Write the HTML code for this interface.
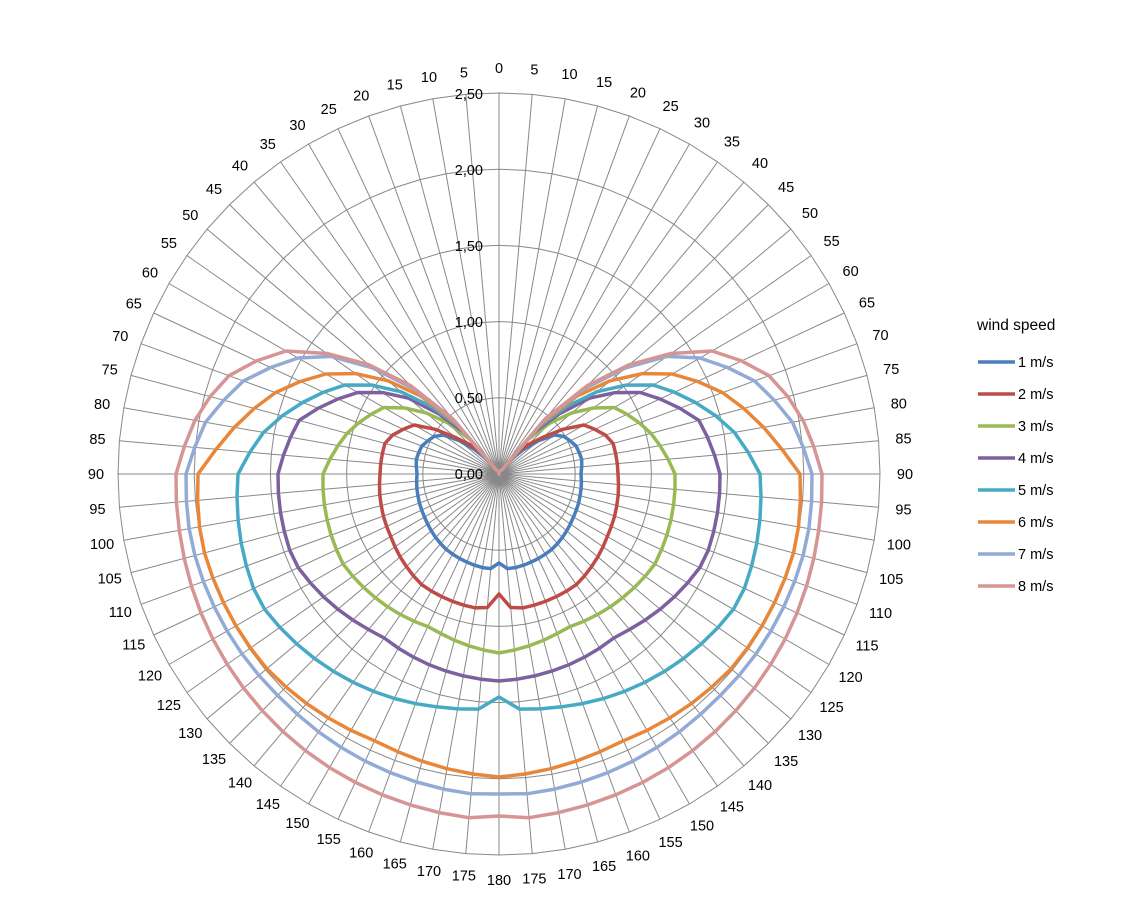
<!DOCTYPE html>
<html><head><meta charset="utf-8"><style>
html,body{margin:0;padding:0;background:#fff;}
svg{display:block;font-family:"Liberation Sans",Arial,sans-serif;}
</style></head><body>
<svg id="s" width="1130" height="906" viewBox="0 0 1130 906">
<g id="grid" stroke="#888" stroke-width="1" fill="none"></g>
<g id="series" fill="none" stroke-width="3.5" stroke-linejoin="round"></g>
<g id="vals" font-size="14.5" fill="#000" text-anchor="end">
<text x="483" y="479">0,00</text>
<text x="483" y="403">0,50</text>
<text x="483" y="327">1,00</text>
<text x="483" y="251">1,50</text>
<text x="483" y="175">2,00</text>
<text x="483" y="99">2,50</text>
</g>
<g id="angR" font-size="14.5" fill="#000" text-anchor="middle">
<text>0</text><text>5</text><text>10</text><text>15</text><text>20</text><text>25</text><text>30</text><text>35</text><text>40</text><text>45</text><text>50</text><text>55</text><text>60</text><text>65</text><text>70</text><text>75</text><text>80</text><text>85</text><text>90</text><text>95</text><text>100</text><text>105</text><text>110</text><text>115</text><text>120</text><text>125</text><text>130</text><text>135</text><text>140</text><text>145</text><text>150</text><text>155</text><text>160</text><text>165</text><text>170</text><text>175</text><text>180</text>
</g>
<g id="angL" font-size="14.5" fill="#000" text-anchor="middle">
<text>5</text><text>10</text><text>15</text><text>20</text><text>25</text><text>30</text><text>35</text><text>40</text><text>45</text><text>50</text><text>55</text><text>60</text><text>65</text><text>70</text><text>75</text><text>80</text><text>85</text><text>90</text><text>95</text><text>100</text><text>105</text><text>110</text><text>115</text><text>120</text><text>125</text><text>130</text><text>135</text><text>140</text><text>145</text><text>150</text><text>155</text><text>160</text><text>165</text><text>170</text><text>175</text>
</g>
<g id="legend" font-size="14.5" fill="#000">
<text x="977" y="330" font-size="15.5">wind speed</text>
<line x1="978" y1="362" x2="1015" y2="362" stroke="#4A7EBB" stroke-width="3.5"/><text x="1018" y="367">1 m/s</text>
<line x1="978" y1="394" x2="1015" y2="394" stroke="#BE4B48" stroke-width="3.5"/><text x="1018" y="399">2 m/s</text>
<line x1="978" y1="426" x2="1015" y2="426" stroke="#98B954" stroke-width="3.5"/><text x="1018" y="431">3 m/s</text>
<line x1="978" y1="458" x2="1015" y2="458" stroke="#7D60A0" stroke-width="3.5"/><text x="1018" y="463">4 m/s</text>
<line x1="978" y1="490" x2="1015" y2="490" stroke="#46AAC5" stroke-width="3.5"/><text x="1018" y="495">5 m/s</text>
<line x1="978" y1="522" x2="1015" y2="522" stroke="#E8873A" stroke-width="3.5"/><text x="1018" y="527">6 m/s</text>
<line x1="978" y1="554" x2="1015" y2="554" stroke="#92AAD6" stroke-width="3.5"/><text x="1018" y="559">7 m/s</text>
<line x1="978" y1="586" x2="1015" y2="586" stroke="#D69594" stroke-width="3.5"/><text x="1018" y="591">8 m/s</text>
</g>
</svg>
<script>
var cx=499,cy=474,R=381,NS="http://www.w3.org/2000/svg";
function P(a,r){var t=a*Math.PI/180;return [cx+r*Math.sin(t),cy-r*Math.cos(t)];}
var g=document.getElementById('grid');
for(var k=1;k<=5;k++){var pts=[];for(var a=0;a<360;a+=5){var p=P(a,R*k/5);pts.push(p[0].toFixed(1)+','+p[1].toFixed(1));}
var pg=document.createElementNS(NS,'polygon');pg.setAttribute('points',pts.join(' '));g.appendChild(pg);}
for(var a=0;a<360;a+=5){var p=P(a,R);var l=document.createElementNS(NS,'line');l.setAttribute('x1',cx);l.setAttribute('y1',cy);l.setAttribute('x2',p[0].toFixed(1));l.setAttribute('y2',p[1].toFixed(1));g.appendChild(l);}
var tr=document.getElementById('angR').children;
for(var i=0;i<tr.length;i++){var p=P(i*5,406);tr[i].setAttribute('x',p[0].toFixed(1));tr[i].setAttribute('y',(p[1]+5).toFixed(1));}
var tl=document.getElementById('angL').children;
for(var i=0;i<tl.length;i++){var p=P(-(i+1)*5,403);tl[i].setAttribute('x',p[0].toFixed(1));tl[i].setAttribute('y',(p[1]+5).toFixed(1));}
var S=[
["#4A7EBB",[[0,0],[35,3],[40,20],[45,35],[50,52],[55,68],[60,75],[70,82],[80,84],[90,82],[120,86],[145,92],[170,95],[175,95],[180,89]]],
["#BE4B48",[[0,0],[35,4],[40,28],[45,42],[50,57],[55,78],[60,98],[73,118],[90,119],[120,125],[145,135],[170,136],[175,134],[180,120]]],
["#98B954",[[0,0],[35,5],[40,45],[45,72],[50,95],[55,115],[60,133],[74,156],[90,176],[120,180],[156,168],[180,179]]],
["#7D60A0",[[0,0],[35,5],[40,55],[45,85],[50,118],[55,142],[60,163],[75,207],[90,221],[113,223],[144,200],[180,207]]],
["#46AAC5",[[0,0],[35,5],[40,60],[45,95],[50,128],[55,155],[60,178],[79,237],[90,261],[118,272],[144,255],[165,241],[175,236],[180,223]]],
["#E8873A",[[0,0],[35,5],[40,65],[45,110],[50,145],[55,175],[60,200],[70,238],[85,284],[90,301],[103,305],[130,303],[156,294],[180,303]]],
["#92AAD6",[[0,0],[35,5],[40,70],[45,120],[50,165],[55,205],[60,232],[70,272],[80,298],[90,313],[102,315],[137,313],[175,321],[180,320]]],
["#D69594",[[0,0],[35,5],[40,72],[45,125],[50,170],[55,210],[60,246],[69,285],[78,306],[90,323],[102,325],[146,338],[175,345],[180,342]]]
];
function interp(k,a){for(var i=0;i<k.length-1;i++){if(a>=k[i][0]&&a<=k[i+1][0]){var t=(a-k[i][0])/(k[i+1][0]-k[i][0]);return k[i][1]+t*(k[i+1][1]-k[i][1]);}}return k[k.length-1][1];}
var sg=document.getElementById('series');
S.forEach(function(s){var pts=[];for(var a=0;a<360;a+=5){var aa=a<=180?a:360-a;var p=P(a,interp(s[1],aa));pts.push(p[0].toFixed(1)+','+p[1].toFixed(1));}
var pg=document.createElementNS(NS,'polygon');pg.setAttribute('points',pts.join(' '));pg.setAttribute('stroke',s[0]);sg.appendChild(pg);});
</script>
</body></html>
